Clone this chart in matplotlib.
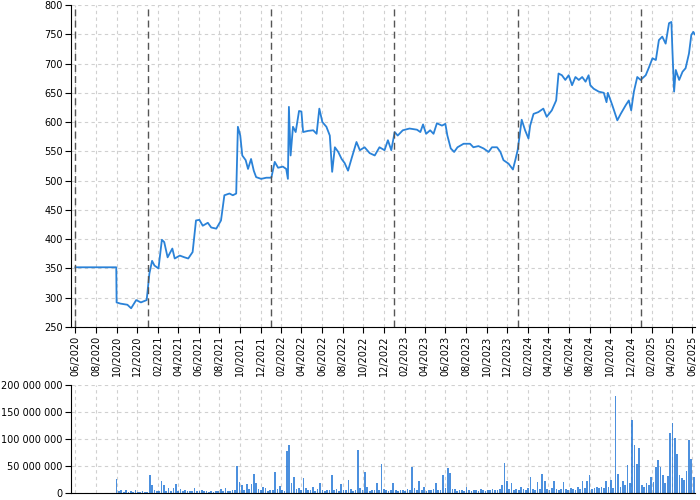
import numpy as np
import pandas as pd
import matplotlib
matplotlib.use("Agg")
import matplotlib.pyplot as plt
import matplotlib.dates as mdates
from matplotlib.ticker import FuncFormatter

# price
price_dates = [
    "2020-06-01", "2020-09-30", "2020-10-01", "2020-10-12", "2020-11-02", "2020-11-13",
    "2020-11-28", "2020-12-12", "2020-12-29", "2021-01-06", "2021-01-14", "2021-01-21",
    "2021-02-02", "2021-02-12", "2021-02-19", "2021-03-01", "2021-03-15", "2021-03-22",
    "2021-04-06", "2021-04-20", "2021-05-01", "2021-05-14", "2021-05-24", "2021-06-03",
    "2021-06-13", "2021-06-28", "2021-07-08", "2021-07-23", "2021-08-06", "2021-08-16",
    "2021-08-31", "2021-09-10", "2021-09-20", "2021-09-25", "2021-10-02", "2021-10-08",
    "2021-10-18", "2021-10-25", "2021-11-03", "2021-11-11", "2021-11-18", "2021-12-03",
    "2021-12-18", "2022-01-02", "2022-01-12", "2022-01-22", "2022-02-05", "2022-02-15",
    "2022-02-20", "2022-02-23", "2022-02-28", "2022-03-07", "2022-03-15", "2022-03-25",
    "2022-04-01", "2022-04-06", "2022-04-21", "2022-05-06", "2022-05-16", "2022-05-24",
    "2022-06-02", "2022-06-14", "2022-06-24", "2022-07-01", "2022-07-09", "2022-07-19",
    "2022-07-29", "2022-08-07", "2022-08-17", "2022-08-27", "2022-09-11", "2022-09-21",
    "2022-10-05", "2022-10-20", "2022-11-04", "2022-11-18", "2022-12-03", "2022-12-13",
    "2022-12-23", "2023-01-02", "2023-01-11", "2023-01-26", "2023-02-15", "2023-03-09",
    "2023-03-19", "2023-03-27", "2023-04-05", "2023-04-17", "2023-04-27", "2023-05-07",
    "2023-05-22", "2023-06-01", "2023-06-07", "2023-06-17", "2023-06-27", "2023-07-07",
    "2023-07-25", "2023-08-13", "2023-08-23", "2023-09-07", "2023-09-22", "2023-10-07",
    "2023-10-17", "2023-11-01", "2023-11-11", "2023-11-20", "2023-12-05", "2023-12-18",
    "2023-12-25", "2024-01-01", "2024-01-13", "2024-01-23", "2024-02-02", "2024-02-07",
    "2024-02-17", "2024-03-02", "2024-03-17", "2024-03-27", "2024-04-11", "2024-04-24",
    "2024-05-01", "2024-05-11", "2024-05-21", "2024-05-31", "2024-06-10", "2024-06-20",
    "2024-06-30", "2024-07-10", "2024-07-20", "2024-07-29", "2024-08-03", "2024-08-13",
    "2024-08-28", "2024-09-12", "2024-09-20", "2024-09-24", "2024-10-07", "2024-10-22",
    "2024-11-01", "2024-11-16", "2024-11-25", "2024-12-02", "2024-12-10", "2024-12-20",
    "2024-12-30", "2025-01-14", "2025-01-24", "2025-02-03", "2025-02-13", "2025-02-22",
    "2025-03-04", "2025-03-14", "2025-03-24", "2025-03-31", "2025-04-03", "2025-04-08",
    "2025-04-13", "2025-04-23", "2025-05-03", "2025-05-12", "2025-05-22", "2025-05-29",
    "2025-06-04", "2025-06-08",
]
price_values = [
    352, 352, 292, 290, 288, 282,
    296, 292, 296, 341, 363, 355,
    350, 399, 395, 369, 384, 367,
    372, 369, 367, 378, 432, 433,
    423, 428, 420, 418, 432, 475,
    478, 475, 478, 592, 577, 543,
    535, 520, 537, 517, 506, 503,
    505, 505, 532, 522, 524, 520,
    503, 626, 543, 592, 583, 619,
    618, 583, 585, 586, 580, 623,
    600, 592, 577, 515, 557, 549,
    537, 530, 517, 537, 566, 552,
    557, 547, 543, 557, 552, 569,
    552, 583, 577, 586, 589, 587,
    583, 596, 580, 586, 580, 598,
    594, 597, 577, 555, 549, 557,
    563, 563, 557, 559, 555, 549,
    557, 557, 549, 535, 529, 519,
    535, 552, 604, 586, 572, 594,
    614, 617, 623, 609, 620, 637,
    683, 680, 672, 680, 663, 677,
    672, 677, 669, 680, 663, 657,
    652, 650, 634, 650, 629, 603,
    614, 629, 637, 620, 652, 677,
    672, 680, 694, 709, 706, 740,
    746, 734, 769, 771, 723, 652,
    689, 672, 686, 692, 717, 749,
    754, 750,
]

# weekly volume in millions, from 2020-10-01
vol_start = "2020-10-01"
vol_millions = [
    26, 3, 6, 2, 6, 2, 3, 2, 6, 2,
    2, 3, 2, 2, 34, 15, 5, 4, 3, 23,
    14, 4, 9, 3, 10, 17, 4, 7, 3, 6,
    3, 4, 3, 9, 4, 3, 5, 3, 4, 2,
    3, 2, 3, 4, 8, 3, 9, 4, 3, 5,
    6, 50, 21, 15, 6, 17, 8, 17, 36, 19,
    7, 5, 12, 9, 4, 5, 6, 39, 8, 13,
    5, 4, 77, 89, 19, 29, 8, 10, 6, 27,
    9, 6, 5, 12, 4, 7, 19, 6, 4, 5,
    6, 33, 5, 8, 4, 17, 6, 5, 25, 7,
    4, 6, 80, 10, 5, 38, 12, 4, 6, 5,
    18, 6, 54, 8, 5, 4, 6, 19, 5, 4,
    6, 5, 4, 7, 5, 48, 10, 6, 22, 5,
    12, 4, 6, 5, 7, 18, 5, 6, 33, 9,
    46, 37, 7, 8, 4, 5, 6, 4, 12, 5,
    4, 6, 5, 4, 8, 5, 4, 6, 5, 7,
    5, 6, 8, 15, 56, 22, 7, 18, 6, 8,
    5, 12, 7, 6, 9, 30, 8, 6, 20, 7,
    35, 22, 8, 6, 9, 22, 7, 6, 8, 20,
    7, 6, 9, 8, 6, 12, 7, 22, 9, 22,
    33, 8, 10, 12, 9, 11, 10, 22, 12, 24,
    10, 180, 35, 12, 22, 14, 52, 18, 135, 89,
    54, 83, 15, 12, 18, 14, 30, 20, 49, 61,
    49, 33, 18, 32, 112, 130, 101, 72, 33, 28,
    25, 40, 98, 63, 30,
]

marker_dates = ["2020-06-01", "2021-01-01", "2022-01-01", "2023-01-01", "2024-01-01", "2025-01-01"]

blue = "#2a82d8"
grid_kw = dict(color="#d0d0d0", linestyle=(0, (3, 3)), linewidth=0.8)

px = pd.to_datetime(price_dates)
vx = pd.date_range(vol_start, periods=len(vol_millions), freq="7D")
vol = np.array(vol_millions) * 1e6

fig = plt.figure(figsize=(7, 5), dpi=100)
ax = fig.add_axes([0.1014, 0.346, 0.892, 0.644])
axv = fig.add_axes([0.1014, 0.014, 0.892, 0.216])

xmin, xmax = pd.Timestamp("2020-05-19"), pd.Timestamp("2025-06-10")

ax.plot(px, price_values, color=blue, linewidth=1.3)
for d in marker_dates:
    ax.axvline(pd.Timestamp(d), color="#555555", linestyle=(0, (5, 3)), linewidth=1)
ax.set_ylim(250, 800)
ax.set_yticks(np.arange(250, 801, 50))

axv.bar(vx, vol, width=5, color="#1f74d6", alpha=0.8, linewidth=0)
axv.set_ylim(0, 200e6)
axv.set_yticks(np.arange(0, 200e6 + 1, 50e6))
axv.yaxis.set_major_formatter(FuncFormatter(lambda v, p: f"{int(v):,}".replace(",", " ")))

ticks = pd.date_range("2020-06-01", "2025-06-01", freq="2MS")
for a in (ax, axv):
    a.set_xlim(xmin, xmax)
    a.set_xticks(ticks)
    a.grid(True, **grid_kw)
    a.set_axisbelow(True)
    a.spines["top"].set_visible(False)
    a.spines["right"].set_visible(False)
    a.tick_params(labelsize=7, length=4, pad=2, color="black")

ax.xaxis.set_major_formatter(mdates.DateFormatter("%m/%Y"))
plt.setp(ax.get_xticklabels(), rotation=90)
axv.tick_params(axis="x", length=0, labelbottom=False)

fig.savefig("out.png", dpi=100)
